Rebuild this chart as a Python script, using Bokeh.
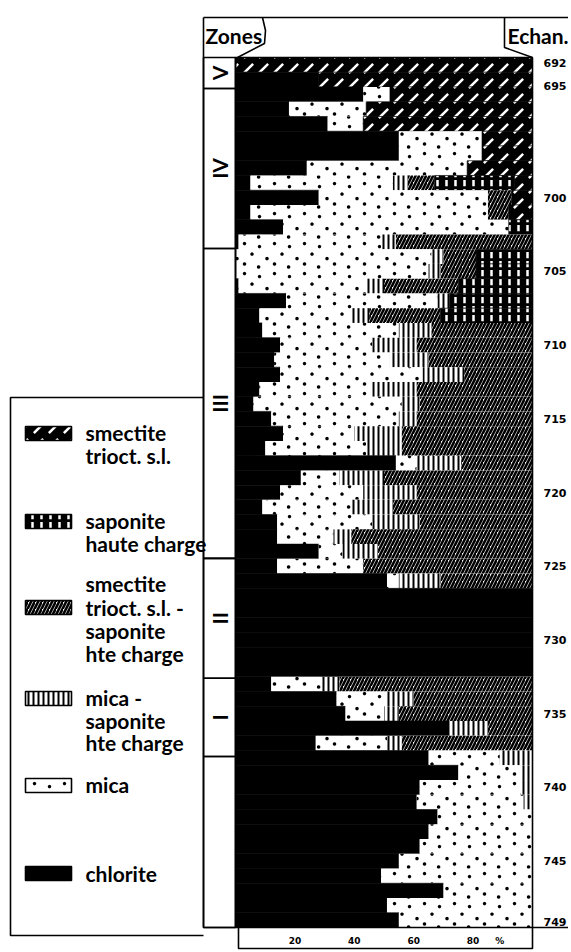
import math, zlib, struct, base64
from bokeh.plotting import figure
from bokeh.models import Range1d, ColumnDataSource, ImageURLTexture
from bokeh.embed import file_html
from bokeh.resources import INLINE
from bokeh.core.properties import value

# ---------------- data (percent of clay fraction, one row per sample level, top -> bottom) -------------
rows = list(range(59))
chlorite = [0, 28, 43, 18, 31, 55, 55, 24, 5, 28,
            5, 16, 1, 0, 0, 1, 17, 8, 9, 15,
            13, 15, 8, 6, 12, 16, 10, 54, 22, 15,
            9, 14, 14, 28, 14, 51, 100, 100, 100, 100,
            100, 100, 12, 34, 37, 72, 27, 65, 75, 62,
            61, 68, 65, 62, 55, 49, 70, 51, 55]
mica = [0, 0, 9, 26, 12, 28, 28, 54, 48, 57,
        80, 76, 48, 66, 65, 43, 51, 31, 46, 31,
        39, 48, 38, 50, 43, 24, 34, 7, 13, 28,
        30, 32, 19, 8, 29, 4, 0, 0, 0, 0,
        0, 0, 17, 17, 13, 0, 24, 24, 21, 34,
        36, 32, 35, 38, 45, 51, 30, 49, 45]
mica_sap = [0, 0, 0, 0, 0, 0, 0, 0, 5, 0,
            0, 0, 5, 4, 4, 6, 4, 6, 11, 15,
            13, 14, 15, 6, 6, 16, 12, 15, 15, 18,
            14, 16, 6, 12, 0, 14, 0, 0, 0, 0,
            0, 0, 6, 9, 5, 13, 5, 11, 4, 4,
            3, 0, 0, 0, 0, 0, 0, 0, 0]
smect_sap = [0, 0, 0, 0, 0, 0, 0, 0, 9, 8,
             7, 0, 46, 11, 12, 25, 0, 24, 34, 39,
             35, 23, 39, 38, 39, 44, 44, 24, 50, 39,
             47, 38, 61, 52, 57, 31, 0, 0, 0, 0,
             0, 0, 65, 40, 45, 15, 44, 0, 0, 0,
             0, 0, 0, 0, 0, 0, 0, 0, 0]
sap_hc = [0, 0, 0, 0, 0, 0, 0, 0, 27, 0,
          0, 8, 0, 19, 19, 25, 28, 31, 0, 0,
          0, 0, 0, 0, 0, 0, 0, 0, 0, 0,
          0, 0, 0, 0, 0, 0, 0, 0, 0, 0,
          0, 0, 0, 0, 0, 0, 0, 0, 0, 0,
          0, 0, 0, 0, 0, 0, 0, 0, 0]
smect = [100, 72, 48, 56, 57, 17, 17, 22, 6, 7,
         8, 0, 0, 0, 0, 0, 0, 0, 0, 0,
         0, 0, 0, 0, 0, 0, 0, 0, 0, 0,
         0, 0, 0, 0, 0, 0, 0, 0, 0, 0,
         0, 0, 0, 0, 0, 0, 0, 0, 0, 0,
         0, 0, 0, 0, 0, 0, 0, 0, 0]

sample_labels = ["692", "695", "700", "705", "710", "715", "720",
                 "725", "730", "735", "740", "745", "749"]
sample_rows = [0.35, 1.9, 9.5, 14.5, 19.5, 24.5, 29.5,
               34.5, 39.5, 44.5, 49.5, 54.5, 58.6]

zone_names = ["V", "IV", "III", "II", "I", ""]
zone_top = [0, 2.1, 12.95, 33.97, 42.1, 47.4]
zone_bottom = [2.1, 12.95, 33.97, 42.1, 47.4, 59]

pct_ticks = [20, 40, 60, 80, 89]
pct_labels = ["20", "40", "60", "80", "%"]

# ---------------- layout (page pixel coordinates) ----------------
W, H = 568, 950
PX0, PY0 = 0, 0                 # page offset of the canvas
X0, X1 = 235, 532               # 0 % and 100 %
Y0, Y1 = 57, 927                # top / bottom of the sample column
NROW = 59
px_per_pct = (X1 - X0) / 100.0
px_per_row = (Y1 - Y0) / NROW

p = figure(width=W, height=H, output_backend="svg", toolbar_location=None,
           x_range=Range1d(PX0, PX0 + W), y_range=Range1d(PY0 + H, PY0),
           x_axis_type=None, y_axis_type=None, min_border=0,
           outline_line_color=None, background_fill_color="white")
p.extra_x_ranges = {"pct": Range1d((PX0 - X0) / px_per_pct, (PX0 + W - X0) / px_per_pct)}
p.extra_y_ranges = {"row": Range1d((PY0 + H - Y0) / px_per_row, (PY0 - Y0) / px_per_row)}

FONT = value("Lato")


# ---- stipple texture for "mica": sparse small black dots on a transparent PNG tile ----
def stipple_png(size, pts, radius):
    rows_px = []
    for j in range(size):
        row = bytearray(b"\x00")
        for i in range(size):
            a = 0.0
            for (u, v) in pts:
                for du in (-size, 0, size):
                    for dv in (-size, 0, size):
                        d = math.hypot(i + 0.5 - (u * size + du), j + 0.5 - (v * size + dv))
                        a = max(a, min(1.0, max(0.0, radius + 0.5 - d)))
            row += bytes((0, 0, 0, int(round(255 * a))))
        rows_px.append(bytes(row))
    raw = b"".join(rows_px)

    def chunk(t, d):
        return struct.pack(">I", len(d)) + t + d + struct.pack(">I", zlib.crc32(t + d) & 0xffffffff)
    png = (b"\x89PNG\r\n\x1a\n" + chunk(b"IHDR", struct.pack(">IIBBBBB", size, size, 8, 6, 0, 0, 0))
           + chunk(b"IDAT", zlib.compress(raw)) + chunk(b"IEND", b""))
    return "data:image/png;base64," + base64.b64encode(png).decode()


tile_pts = [(0.15, 0.12), (0.65, 0.22), (0.40, 0.47), (0.90, 0.62),
            (0.15, 0.80), (0.62, 0.90)]
textures = {"mica_dots": ImageURLTexture(url=stipple_png(30, tile_pts, 1.7), repetition="repeat")}

# ---------------- styles ----------------
names = ["chlorite", "mica", "mica_sap", "smect_sap", "sap_hc", "smect"]
series = [chlorite, mica, mica_sap, smect_sap, sap_hc, smect]
fills = ["black", "white", "white", "white", "black", "black"]
hpat = ["blank", "mica_dots", "vertical_line", "right_diagonal_line", "vertical_dash", "right_diagonal_dash"]
hcol = ["black", "black", "black", "black", "white", "white"]
hscale = [10, 30, 5, 7, 9, 15]
hweight = [1, 1.5, 2, 2.6, 2.5, 2.5]
lalpha = [1, 0, 0, 0, 1, 1]

# stacked segments (long form), computed from the series above
seg = dict(y=[], left=[], right=[], fill=[], pat=[], hc=[], hs=[], hw=[], la=[], comp=[])
for r in rows:
    acc = 0
    for k, s in enumerate(series):
        v = s[r]
        if v <= 0:
            continue
        seg["y"].append(r + 0.5)
        seg["left"].append(acc)
        seg["right"].append(acc + v)
        seg["fill"].append(fills[k])
        seg["pat"].append(hpat[k])
        seg["hc"].append(hcol[k])
        seg["hs"].append(hscale[k])
        seg["hw"].append(hweight[k])
        seg["la"].append(lalpha[k])
        seg["comp"].append(names[k])
        acc += v
src = ColumnDataSource(seg)
p.hbar(y="y", height=1, left="left", right="right", source=src,
       x_range_name="pct", y_range_name="row",
       fill_color="fill", hatch_pattern="pat", hatch_color="hc",
       hatch_scale="hs", hatch_weight="hw", hatch_extra=textures,
       line_color="black", line_alpha="la", line_width=0.6)

# ---------------- frame lines ----------------
frame_xs = [[203, 571], [203, 203], [X0, X0], [X1, X1], [X0, X1], [203, 571],
            [262, 265, 264, X0 + 2], [504, 504, X1], [238, 238, X1, X1],
            [203, 10, 10, 203]]
frame_ys = [[17, 17], [17, Y1], [Y0, Y1], [Y0, Y1], [Y0, Y0], [Y1, Y1],
            [17, 30, 43, Y0], [17, 47, Y0], [Y1, 948, 948, Y1],
            [397, 397, 935, 935]]
p.multi_line(xs=frame_xs, ys=frame_ys, line_color="black", line_width=1.6)

# ---------------- zones column ----------------
zsrc = ColumnDataSource(dict(top=zone_top, bottom=zone_bottom, name=zone_names,
                             mid=[(a + b) / 2 for a, b in zip(zone_top, zone_bottom)]))
p.quad(left=203, right=X0, top="top", bottom="bottom", source=zsrc, y_range_name="row",
       fill_color=None, line_color="black", line_width=1.6)
p.text(x=219, y="mid", text="name", source=zsrc, y_range_name="row", angle=math.pi / 2,
       text_align="center", text_baseline="middle", text_font=FONT,
       text_font_size="21px", text_font_style="bold", text_color="black")

# ---------------- headers ----------------
p.text(x=[205, 507], y=[35, 35], text=["Zones", "Echan."], text_font=FONT,
       text_font_size="21px", text_font_style="bold", text_baseline="middle",
       text_align="left", text_color="black")

# ---------------- sample labels (right) and percent labels (bottom) ----------------
p.text(x=[566] * len(sample_labels), y=sample_rows, text=sample_labels, y_range_name="row",
       text_align="right", text_baseline="middle", text_font=value("DejaVu Sans"),
       text_font_size="11px", text_font_style="bold", text_color="black")
p.text(x=pct_ticks, y=[940] * len(pct_ticks), text=pct_labels, x_range_name="pct",
       text_align="center", text_baseline="middle", text_font=value("DejaVu Sans"),
       text_font_size="9px", text_font_style="bold", text_color="black")

# ---------------- legend ----------------
leg_order = ["smect", "sap_hc", "smect_sap", "mica_sap", "mica", "chlorite"]
leg_y = [433, 521, 607, 698, 785, 873]
idx = [names.index(n) for n in leg_order]
lsrc = ColumnDataSource(dict(y=leg_y, fill=[fills[i] for i in idx], pat=[hpat[i] for i in idx],
                             hc=[hcol[i] for i in idx], hs=[hscale[i] for i in idx],
                             hw=[hweight[i] for i in idx]))
p.rect(x=48, y="y", width=46, height=14, source=lsrc, fill_color="fill",
       hatch_pattern="pat", hatch_color="hc", hatch_scale="hs", hatch_weight="hw",
       hatch_extra=textures, line_color="black", line_width=1.6)
leg_lines = ["smectite", "trioct. s.l.", "saponite", "haute charge",
             "smectite", "trioct. s.l.  -", "saponite", "hte charge",
             "mica -", "saponite", "hte charge", "mica", "chlorite"]
leg_line_y = [432, 455, 520, 543, 583, 607, 630, 653, 697, 720, 742, 784, 873]
p.text(x=[85] * len(leg_lines), y=leg_line_y, text=leg_lines, text_font=FONT,
       text_font_size="21px", text_font_style="bold", text_baseline="middle",
       text_align="left", text_color="black")

open("out.html", "w").write(file_html(p, INLINE))
